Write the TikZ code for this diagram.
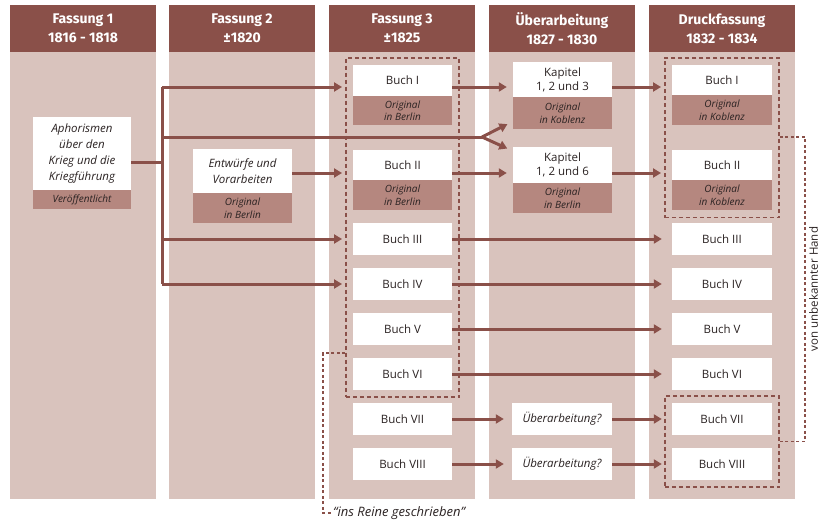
\documentclass[tikz,border=0pt]{standalone}
\usepackage{fontspec}
\setmainfont{Open Sans}
\newfontfamily\headfont{Fira Sans}
\usetikzlibrary{positioning,fit,arrows.meta}

\definecolor{headbrown}{HTML}{8A5049}
\definecolor{colbg}{HTML}{D9C3BD}
\definecolor{notebg}{HTML}{B5877F}
\definecolor{ink}{HTML}{2A2222}

\tikzset{
  head/.style={fill=headbrown, text=white, font=\headfont\bfseries\fontsize{14}{19}\selectfont,
    minimum width=146pt, minimum height=47pt, align=center, inner sep=0pt},
  book/.style={fill=white, text=ink, minimum width=99pt, minimum height=32pt, inner sep=0pt,
    align=center, font=\fontsize{11.5}{14}\selectfont},
  note/.style={fill=notebg, text=ink, minimum width=99pt, minimum height=30pt, inner sep=0pt,
    align=center, font=\itshape\fontsize{10}{12.5}\selectfont},
  link/.style={draw=headbrown, line width=3pt},
  arr/.style={link, -{Triangle[length=8pt,width=9pt]}},
  frame/.style={draw=headbrown, line width=1.5pt, dash pattern=on 4pt off 3pt, inner sep=7pt},
  bracket/.style={draw=headbrown, line width=1.5pt, dash pattern=on 3pt off 2.5pt},
}

\begin{document}
\begin{tikzpicture}[x=1pt,y=-1pt]
\useasboundingbox (0,0) rectangle (819,522);

% columns
\foreach \x in {10,169,329,489,649}
	\fill[colbg] (\x,52) rectangle ++(146,447);
\node[head] (h1) at (83,28.5) {Fassung 1\\1816 - 1818};
\node[head] (h2) at (242,28.5) {Fassung 2\\±1820};
\node[head] (h3) at (402,28.5) {Fassung 3\\±1825};
\node[head] (h4) at (562,28.5) {Überarbeitung\\1827 - 1830};
\node[head] (h5) at (722,28.5) {Druckfassung\\1832 - 1834};

% Fassung 1 and 2
\node[book, minimum width=98pt, minimum height=73pt, font=\itshape\fontsize{11.5}{16}\selectfont] (aph) at (82,153.5)
	{Aphorismen\\über den\\Krieg und die\\Kriegführung};
\node[note, minimum width=98pt, minimum height=19pt, below=0pt of aph] (aphn) {Veröffentlicht};
\node[book, minimum height=44pt, font=\itshape\fontsize{11.5}{16}\selectfont] (entw) at (242.5,171)
	{Entwürfe und\\Vorarbeiten};
\node[note, below=0pt of entw] (entwn) {Original\\in Berlin};

% Fassung 3
\node[book, minimum height=31pt] (c3b1) at (402.5,80.5) {Buch I};
\node[note, minimum height=29pt, below=0pt of c3b1] (c3n1) {Original\\in Berlin};
\node[book, minimum height=30pt] (c3b2) at (402.5,165) {Buch II};
\node[note, below=0pt of c3b2] (c3n2) {Original\\in Berlin};
\foreach \r/\y [count=\i from 3] in {III/239,IV/284,V/329,VI/374,VII/419,VIII/464}
	\node[book] (c3b\i) at (402.5,\y) {Buch \r};

% Ueberarbeitung
\node[book, minimum height=35pt] (k1) at (562.5,79.5) {Kapitel\\1, 2 und 3};
\node[note, minimum height=32pt, below=0pt of k1] (k1n) {Original\\in Koblenz};
\node[book, minimum height=36pt] (k2) at (562.5,165) {Kapitel\\1, 2 und 6};
\node[note, below=0pt of k2] (k2n) {Original\\in Berlin};
\node[book, minimum width=100pt, font=\itshape\fontsize{11.5}{14}\selectfont] (ub7) at (562,419) {Überarbeitung?};
\node[book, minimum width=100pt, font=\itshape\fontsize{11.5}{14}\selectfont] (ub8) at (562,464) {Überarbeitung?};

% Druckfassung
\node[book, minimum width=100pt, minimum height=30pt] (c5b1) at (722,80) {Buch I};
\node[note, minimum width=100pt, below=0pt of c5b1] (c5n1) {Original\\in Koblenz};
\node[book, minimum width=100pt, minimum height=30pt] (c5b2) at (722,165) {Buch II};
\node[note, minimum width=100pt, below=0pt of c5b2] (c5n2) {Original\\in Koblenz};
\foreach \r/\y [count=\i from 3] in {III/239,IV/284,V/329,VI/374,VII/419,VIII/464}
	\node[book, minimum width=100pt] (c5b\i) at (722,\y) {Buch \r};

% dashed groups
\node[frame, fit=(c3b1)(c3b6)] (fr3) {};
\node[frame, fit=(c5b1)(c5n2)] (fr5a) {};
\node[frame, fit=(c5b7)(c5b8)] (fr5b) {};

% connectors
\coordinate (r1) at (0,87);
\coordinate (r2) at (0,173);
\coordinate (tr1) at (162,87);
\coordinate (tr2) at (162,137);
\coordinate (tr5) at (162,284);
\coordinate (fork) at (482,137);
\draw[link] (tr1) -- (tr5);
\draw[link] ([yshift=-8.5pt]aph.east) -- ++(31,0);
\draw[arr, shorten >=3pt] (tr1) -- (fr3.west |- r1);
\draw[arr, shorten >=3pt] (tr1 |- c3b3) -- (fr3.west |- c3b3);
\draw[arr, shorten >=3pt] (tr5) -- (fr3.west |- c3b4);
\draw[arr, shorten >=3pt] (entw.east |- r2) -- (fr3.west |- r2);
\draw[link] (tr2) -- (fork);
\draw[arr, shorten >=6pt] (fork) -- ([yshift=-8pt]k1n.west);
\draw[arr, shorten >=6pt] (fork) -- ([yshift=14pt]k2.west);
\draw[arr, shorten >=6pt] (c3b1.east |- r1) -- (k1.west |- r1);
\draw[arr, shorten >=3pt] (k1.east |- r1) -- (fr5a.west |- r1);
\draw[arr, shorten >=6pt] (c3b2.east |- r2) -- (k2.west |- r2);
\draw[arr, shorten >=3pt] (k2.east |- r2) -- (fr5a.west |- r2);
\foreach \i in {3,...,6}
	\draw[arr, shorten >=10pt] (c3b\i) -- (c5b\i);
\foreach \i in {7,8} {
	\draw[arr, shorten >=8pt] (c3b\i) -- (ub\i);
	\draw[arr, shorten >=10pt] (ub\i) -- (c5b\i);
}

% side notes
\node[anchor=west, text=ink, font=\itshape\fontsize{13}{15}\selectfont, inner sep=0pt] (irg) at (333,513)
	{“ins Reine geschrieben”};
\coordinate (irgtop) at (323,353);
\draw[bracket] (fr3.west |- irgtop) -- (irgtop) |- (irg.west);
\coordinate (vuh) at (805,137);
\draw[bracket] (fr5a.east |- vuh) -- (vuh) |- (fr5b.east);
\node[rotate=90, text=ink, font=\fontsize{11.5}{13}\selectfont, inner sep=0pt] (vuhtext) at (813.5,289)
	{von unbekannter Hand};
\end{tikzpicture}
\end{document}
